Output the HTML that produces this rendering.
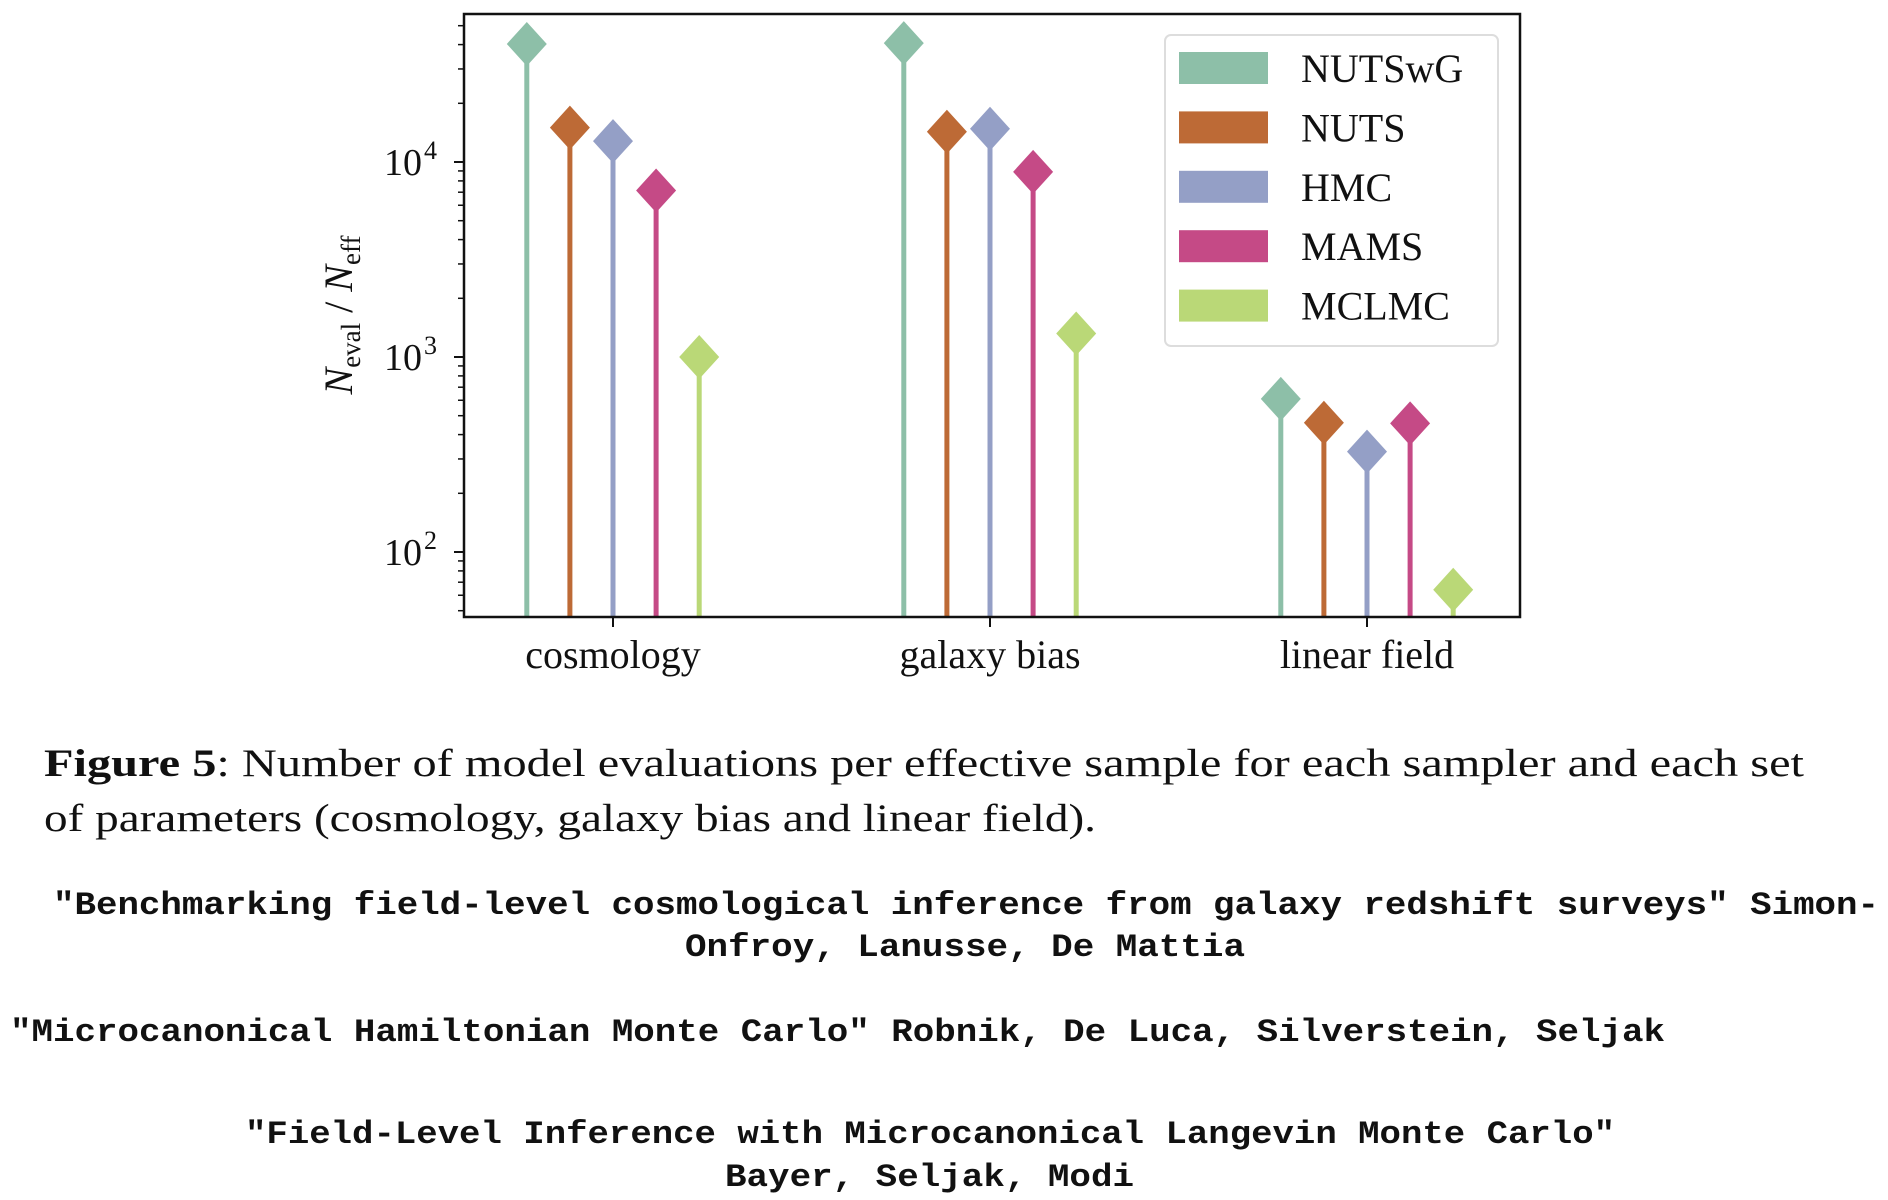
<!DOCTYPE html>
<html><head><meta charset="utf-8"><style>
html,body{margin:0;padding:0;background:#fff;}
svg{display:block;}
.serif{font-family:"Liberation Serif",serif;fill:#111;}
.mono{font-family:"Liberation Mono",monospace;font-weight:bold;fill:#111;}
</style></head><body>
<svg id="chart" width="1888" height="1200" viewBox="0 0 1888 1200" xmlns="http://www.w3.org/2000/svg">
<g id="plot"></g>
<g id="legend"></g>
<text class="serif" x="352" y="315" font-size="40" text-anchor="middle" transform="rotate(-90 352 315)"><tspan font-style="italic">N</tspan><tspan font-size="27" dy="8">eval</tspan><tspan dy="-8"> / </tspan><tspan font-style="italic">N</tspan><tspan font-size="27" dy="8">eff</tspan></text>
<text class="serif" x="44" y="776" font-size="39" textLength="1760" lengthAdjust="spacingAndGlyphs"><tspan font-weight="bold">Figure 5</tspan>: Number of model evaluations per effective sample for each sampler and each set</text>
<text class="serif" x="44" y="831" font-size="39" textLength="1052" lengthAdjust="spacingAndGlyphs">of parameters (cosmology, galaxy bias and linear field).</text>
<text class="mono" x="53" y="914" font-size="32" textLength="1826" lengthAdjust="spacingAndGlyphs">"Benchmarking field-level cosmological inference from galaxy redshift surveys" Simon-</text>
<text class="mono" x="685" y="956" font-size="32" textLength="560" lengthAdjust="spacingAndGlyphs">Onfroy, Lanusse, De Mattia</text>
<text class="mono" x="10" y="1041" font-size="32" textLength="1655" lengthAdjust="spacingAndGlyphs">"Microcanonical Hamiltonian Monte Carlo" Robnik, De Luca, Silverstein, Seljak</text>
<text class="mono" x="245" y="1143" font-size="32" textLength="1370" lengthAdjust="spacingAndGlyphs">"Field-Level Inference with Microcanonical Langevin Monte Carlo"</text>
<text class="mono" x="725" y="1186" font-size="32" textLength="409" lengthAdjust="spacingAndGlyphs">Bayer, Seljak, Modi</text>
</svg>
<script>
const categories = ["cosmology", "galaxy bias", "linear field"];
const seriesNames = ["NUTSwG", "NUTS", "HMC", "MAMS", "MCLMC"];
const seriesColors = ["#8dbfa8", "#bd6a36", "#949fc6", "#c54a86", "#bad877"];
const valNUTSwG = [40300, 40700, 610];
const valNUTS = [15000, 14300, 460];
const valHMC = [12800, 14800, 327];
const valMAMS = [7140, 8900, 457];
const valMCLMC = [1000, 1320, 64];
const yTickExps = [2, 3, 4];

const series = [valNUTSwG, valNUTS, valHMC, valMAMS, valMCLMC];
const NS = "http://www.w3.org/2000/svg";
const L = 464, R = 1520, T = 14, B = 617;
const yRef = 162, decade = 195; // 1e4 at yRef
function y(v){ return yRef - (Math.log10(v) - 4) * decade; }
function xc(i){ return 613 + i * 377; }
const off = 43.1;
function mk(tag, attrs, parent){ const e = document.createElementNS(NS, tag); for (const k in attrs) e.setAttribute(k, attrs[k]); parent.appendChild(e); return e; }
const plot = document.getElementById('plot');

series.forEach((vals, s) => {
  vals.forEach((v, c) => {
    const x = xc(c) + (s - 2) * off;
    const stem = mk('line', {x1: x, x2: x, y1: B, y2: y(v), stroke: seriesColors[s], 'stroke-width': 5}, plot);
    
    
    const yy = y(v);
    const d = mk('polygon', {points: `${x},${yy-22} ${x+20},${yy} ${x},${yy+22} ${x-20},${yy}`, fill: seriesColors[s]}, plot);
    
    
  });
});

const frame = mk('rect', {x: L, y: T, width: R - L, height: B - T, fill: 'none', stroke: '#111', 'stroke-width': 2.5}, plot);



for (let e = 1; e <= 4; e++) {
  for (let m = 1; m <= 9; m++) {
    const v = m * Math.pow(10, e);
    const yy = y(v);
    if (yy < T || yy > B) continue;
    const t = mk('line', {x1: L - (m === 1 ? 10 : 6), x2: L, y1: yy, y2: yy, stroke: '#111', 'stroke-width': m === 1 ? 2 : 1.5}, plot);
    
    
  }
}
yTickExps.forEach(e => {
  const yy = y(Math.pow(10, e));
  const t = mk('text', {x: 422, y: yy + 13, 'font-size': 38, 'text-anchor': 'end', class: 'serif'}, plot);
  t.textContent = '10';
  const sup = mk('tspan', {'font-size': 26, dy: -16, x: 424, 'text-anchor': 'start'}, t);
  sup.textContent = String(e);
  
  
});

categories.forEach((c, i) => {
  const tk = mk('line', {x1: xc(i), x2: xc(i), y1: B, y2: B + 10, stroke: '#111', 'stroke-width': 2}, plot);
  
  
  const t = mk('text', {x: xc(i), y: 668, 'font-size': 40, 'text-anchor': 'middle', class: 'serif'}, plot);
  t.textContent = c;
  
  
});

const lg = document.getElementById('legend');
const box = mk('rect', {x: 1165, y: 35, width: 333, height: 311, rx: 6, fill: '#fff', 'fill-opacity': 0.85, stroke: '#ddd', 'stroke-width': 2}, lg);


seriesNames.forEach((n, i) => {
  const cy = 68 + i * 59.4;
  const g = mk('g', {}, lg);
  
  
  mk('rect', {x: 1179, y: cy - 16, width: 89, height: 32, fill: seriesColors[i]}, g);
  const t = mk('text', {x: 1301, y: cy + 14, 'font-size': 40, class: 'serif'}, g);
  t.textContent = n;
});
</script>
</body></html>
